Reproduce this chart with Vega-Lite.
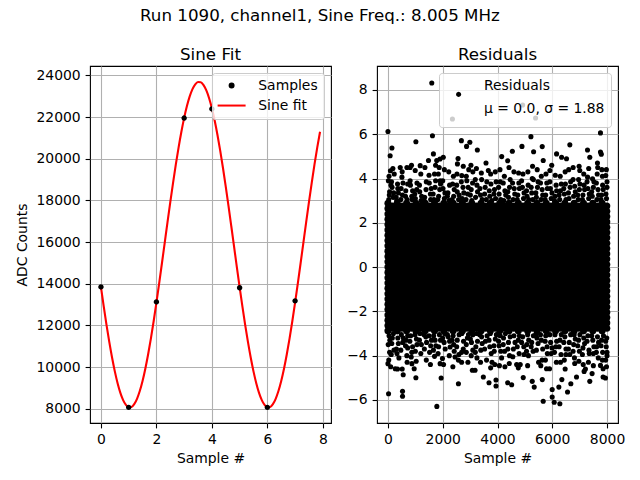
{
"$schema":"https://vega.github.io/schema/vega-lite/v6.json",
"background":"white",
"padding":{"left":14,"top":7,"right":5,"bottom":5},
"title":{"text":"Run 1090, channel1, Sine Freq.: 8.005 MHz","frame":"bounds","anchor":"middle","offset":21.5},
"config":{
"font":"DejaVu Sans",
"view":{"stroke":"black","strokeWidth":1.1},
"title":{"font":"DejaVu Sans","fontSize":16.7,"fontWeight":"normal","color":"black","baseline":"alphabetic","offset":2.8},
"axis":{"domain":false,"grid":true,"gridColor":"#b0b0b0","gridWidth":1.1,"tickColor":"black","tickSize":4.9,"tickWidth":1.1,"labelFont":"DejaVu Sans","labelFontSize":13.9,"labelColor":"black","labelPadding":4.9,"labelFlush":false,"labelOverlap":false,"titleFont":"DejaVu Sans","titleFontSize":13.9,"titleFontWeight":"normal","titleColor":"black","titlePadding":5},
"axisY":{"titlePadding":7},
"legend":{"orient":"top-right","offset":7,"padding":5.6,"fillColor":"rgba(255,255,255,0.8)","strokeColor":"#cccccc","cornerRadius":2.8,"labelFont":"DejaVu Sans","labelFontSize":13.9,"labelColor":"black","rowPadding":5,"symbolSize":16,"symbolStrokeWidth":2,"symbolOffset":7.05,"labelOffset":19.75}
},
"spacing":46,
"bounds":"flush",
"resolve":{"scale":{"fill":"independent","stroke":"independent","shape":"independent"}},
"datasets":{
"samples":[{"x":0,"y":13850,"series":"Samples"},{"x":1,"y":8070,"series":"Samples"},{"x":2,"y":13130,"series":"Samples"},{"x":3,"y":21950,"series":"Samples"},{"x":4,"y":22390,"series":"Samples"},{"x":5,"y":13810,"series":"Samples"},{"x":6,"y":8070,"series":"Samples"},{"x":7,"y":13180,"series":"Samples"}],
"curve":[{"x":0,"y":13842},{"x":0.1,"y":12912},{"x":0.2,"y":12030},{"x":0.3,"y":11209},{"x":0.4,"y":10461},{"x":0.5,"y":9798},{"x":0.6,"y":9231},{"x":0.7,"y":8769},{"x":0.8,"y":8419},{"x":0.9,"y":8187},{"x":1.0,"y":8077},{"x":1.1,"y":8089},{"x":1.2,"y":8224},{"x":1.3,"y":8480},{"x":1.4,"y":8853},{"x":1.5,"y":9336},{"x":1.6,"y":9924},{"x":1.7,"y":10604},{"x":1.8,"y":11367},{"x":1.9,"y":12201},{"x":2.0,"y":13095},{"x":2.1,"y":14031},{"x":2.2,"y":14997},{"x":2.3,"y":15977},{"x":2.4,"y":16956},{"x":2.5,"y":17916},{"x":2.6,"y":18846},{"x":2.7,"y":19728},{"x":2.8,"y":20549},{"x":2.9,"y":21297},{"x":3.0,"y":21960},{"x":3.1,"y":22527},{"x":3.2,"y":22989},{"x":3.3,"y":23339},{"x":3.4,"y":23571},{"x":3.5,"y":23681},{"x":3.6,"y":23669},{"x":3.7,"y":23534},{"x":3.8,"y":23278},{"x":3.9,"y":22905},{"x":4.0,"y":22422},{"x":4.1,"y":21834},{"x":4.2,"y":21154},{"x":4.3,"y":20391},{"x":4.4,"y":19557},{"x":4.5,"y":18663},{"x":4.6,"y":17727},{"x":4.7,"y":16761},{"x":4.8,"y":15781},{"x":4.9,"y":14802},{"x":5.0,"y":13842},{"x":5.1,"y":12912},{"x":5.2,"y":12030},{"x":5.3,"y":11209},{"x":5.4,"y":10461},{"x":5.5,"y":9798},{"x":5.6,"y":9231},{"x":5.7,"y":8769},{"x":5.8,"y":8419},{"x":5.9,"y":8187},{"x":6.0,"y":8077},{"x":6.1,"y":8089},{"x":6.2,"y":8224},{"x":6.3,"y":8480},{"x":6.4,"y":8853},{"x":6.5,"y":9336},{"x":6.6,"y":9924},{"x":6.7,"y":10604},{"x":6.8,"y":11367},{"x":6.9,"y":12201},{"x":7.0,"y":13095},{"x":7.1,"y":14031},{"x":7.2,"y":14997},{"x":7.3,"y":15977},{"x":7.4,"y":16956},{"x":7.5,"y":17916},{"x":7.6,"y":18846},{"x":7.7,"y":19728},{"x":7.8,"y":20549},{"x":7.9,"y":21297}],
"residuals":[
{"x":0,"y":-2.88},{"x":0,"y":-2.64},{"x":0,"y":-2.4},{"x":0,"y":-2.16},{"x":0,"y":-1.92},{"x":0,"y":-1.68},{"x":0,"y":-1.44},{"x":0,"y":-1.2},{"x":0,"y":-0.96},{"x":0,"y":-0.72},{"x":0,"y":-0.48},{"x":0,"y":-0.24},{"x":0,"y":0},{"x":0,"y":0.24},{"x":0,"y":0.48},{"x":0,"y":0.72},{"x":0,"y":0.96},{"x":0,"y":1.2},{"x":0,"y":1.44},{"x":0,"y":1.68},{"x":0,"y":1.92},{"x":0,"y":2.16},{"x":0,"y":2.4},{"x":0,"y":2.64},{"x":0,"y":2.88},
{"x":30,"y":3.05},{"x":60,"y":3.4},{"x":15,"y":3.9},{"x":90,"y":4.35},{"x":0,"y":6.12},{"x":80,"y":5.03},{"x":145,"y":5.38},{"x":40,"y":-3.1},{"x":10,"y":-3.5},{"x":60,"y":-3.85},{"x":0,"y":-4.36},{"x":100,"y":-4.5},{"x":22,"y":-5.72},
{"x":170,"y":-2.76},{"x":170,"y":-2.52},{"x":170,"y":-2.28},{"x":170,"y":-2.04},{"x":170,"y":-1.8},{"x":170,"y":-1.56},{"x":170,"y":-1.32},{"x":170,"y":-1.08},{"x":170,"y":-0.84},{"x":170,"y":-0.6},{"x":170,"y":-0.36},{"x":170,"y":-0.12},{"x":170,"y":0.12},{"x":170,"y":0.36},{"x":170,"y":0.6},{"x":170,"y":0.84},{"x":170,"y":1.08},{"x":170,"y":1.32},{"x":170,"y":1.56},{"x":170,"y":1.8},{"x":170,"y":2.04},{"x":170,"y":2.28},{"x":170,"y":2.52},{"x":170,"y":2.76},
{"x":190,"y":3.15},{"x":150,"y":3.6},{"x":230,"y":4.2},{"x":200,"y":-3.0},{"x":140,"y":-3.45},{"x":266,"y":-4.59},
{"x":340,"y":-2.88},{"x":340,"y":-2.64},{"x":340,"y":-2.4},{"x":340,"y":-2.16},{"x":340,"y":-1.92},{"x":340,"y":-1.68},{"x":340,"y":-1.44},{"x":340,"y":-1.2},{"x":340,"y":-0.96},{"x":340,"y":-0.72},{"x":340,"y":-0.48},{"x":340,"y":-0.24},{"x":340,"y":0},{"x":340,"y":0.24},{"x":340,"y":0.48},{"x":340,"y":0.72},{"x":340,"y":0.96},{"x":340,"y":1.2},{"x":340,"y":1.44},{"x":340,"y":1.68},{"x":340,"y":1.92},{"x":340,"y":2.16},{"x":340,"y":2.4},{"x":340,"y":2.64},{"x":340,"y":2.88},
{"x":320,"y":3.0},{"x":380,"y":3.35},{"x":350,"y":3.75},{"x":448,"y":4.5},{"x":360,"y":-3.2},{"x":310,"y":-3.7},{"x":400,"y":-4.1},
{"x":510,"y":-2.76},{"x":510,"y":-2.52},{"x":510,"y":-2.28},{"x":510,"y":-2.04},{"x":510,"y":-1.8},{"x":510,"y":-1.56},{"x":510,"y":-1.32},{"x":510,"y":-1.08},{"x":510,"y":-0.84},{"x":510,"y":-0.6},{"x":510,"y":-0.36},{"x":510,"y":-0.12},{"x":510,"y":0.12},{"x":510,"y":0.36},{"x":510,"y":0.6},{"x":510,"y":0.84},{"x":510,"y":1.08},{"x":510,"y":1.32},{"x":510,"y":1.56},{"x":510,"y":1.8},{"x":510,"y":2.04},{"x":510,"y":2.28},{"x":510,"y":2.52},{"x":510,"y":2.76},
{"x":530,"y":3.25},{"x":480,"y":3.55},{"x":510,"y":4.06},{"x":490,"y":-3.05},{"x":540,"y":-3.4},{"x":557,"y":-4.86},{"x":520,"y":-4.6},{"x":532,"y":-5.61},{"x":532,"y":-5.83},
{"x":680,"y":-2.88},{"x":680,"y":-2.64},{"x":680,"y":-2.4},{"x":680,"y":-2.16},{"x":680,"y":-1.92},{"x":680,"y":-1.68},{"x":680,"y":-1.44},{"x":680,"y":-1.2},{"x":680,"y":-0.96},{"x":680,"y":-0.72},{"x":680,"y":-0.48},{"x":680,"y":-0.24},{"x":680,"y":0},{"x":680,"y":0.24},{"x":680,"y":0.48},{"x":680,"y":0.72},{"x":680,"y":0.96},{"x":680,"y":1.2},{"x":680,"y":1.44},{"x":680,"y":1.68},{"x":680,"y":1.92},{"x":680,"y":2.16},{"x":680,"y":2.4},{"x":680,"y":2.64},{"x":680,"y":2.88},
{"x":700,"y":3.05},{"x":650,"y":3.45},{"x":692,"y":4.5},{"x":810,"y":4.5},{"x":660,"y":-3.3},{"x":720,"y":-3.65},{"x":690,"y":-4.0},
{"x":850,"y":-2.76},{"x":850,"y":-2.52},{"x":850,"y":-2.28},{"x":850,"y":-2.04},{"x":850,"y":-1.8},{"x":850,"y":-1.56},{"x":850,"y":-1.32},{"x":850,"y":-1.08},{"x":850,"y":-0.84},{"x":850,"y":-0.6},{"x":850,"y":-0.36},{"x":850,"y":-0.12},{"x":850,"y":0.12},{"x":850,"y":0.36},{"x":850,"y":0.6},{"x":850,"y":0.84},{"x":850,"y":1.08},{"x":850,"y":1.32},{"x":850,"y":1.56},{"x":850,"y":1.8},{"x":850,"y":2.04},{"x":850,"y":2.28},{"x":850,"y":2.52},{"x":850,"y":2.76},
{"x":870,"y":3.2},{"x":820,"y":3.7},{"x":880,"y":3.05},{"x":830,"y":-3.1},{"x":874,"y":-4.36},{"x":850,"y":-4.06},{"x":900,"y":-3.6},
{"x":1020,"y":-2.88},{"x":1020,"y":-2.64},{"x":1020,"y":-2.4},{"x":1020,"y":-2.16},{"x":1020,"y":-1.92},{"x":1020,"y":-1.68},{"x":1020,"y":-1.44},{"x":1020,"y":-1.2},{"x":1020,"y":-0.96},{"x":1020,"y":-0.72},{"x":1020,"y":-0.48},{"x":1020,"y":-0.24},{"x":1020,"y":0},{"x":1020,"y":0.24},{"x":1020,"y":0.48},{"x":1020,"y":0.72},{"x":1020,"y":0.96},{"x":1020,"y":1.2},{"x":1020,"y":1.44},{"x":1020,"y":1.68},{"x":1020,"y":1.92},{"x":1020,"y":2.16},{"x":1020,"y":2.4},{"x":1020,"y":2.64},{"x":1020,"y":2.88},
{"x":1000,"y":3.1},{"x":1050,"y":3.5},{"x":995,"y":4.36},{"x":1020,"y":5.66},{"x":1040,"y":-3.25},{"x":958,"y":-4.59},{"x":1020,"y":-5.0},{"x":1000,"y":-3.8},
{"x":1190,"y":-2.76},{"x":1190,"y":-2.52},{"x":1190,"y":-2.28},{"x":1190,"y":-2.04},{"x":1190,"y":-1.8},{"x":1190,"y":-1.56},{"x":1190,"y":-1.32},{"x":1190,"y":-1.08},{"x":1190,"y":-0.84},{"x":1190,"y":-0.6},{"x":1190,"y":-0.36},{"x":1190,"y":-0.12},{"x":1190,"y":0.12},{"x":1190,"y":0.36},{"x":1190,"y":0.6},{"x":1190,"y":0.84},{"x":1190,"y":1.08},{"x":1190,"y":1.32},{"x":1190,"y":1.56},{"x":1190,"y":1.8},{"x":1190,"y":2.04},{"x":1190,"y":2.28},{"x":1190,"y":2.52},{"x":1190,"y":2.76},
{"x":1210,"y":3.0},{"x":1177,"y":4.58},{"x":1160,"y":3.4},{"x":1170,"y":-3.0},{"x":1220,"y":-3.5},
{"x":1360,"y":-2.88},{"x":1360,"y":-2.64},{"x":1360,"y":-2.4},{"x":1360,"y":-2.16},{"x":1360,"y":-1.92},{"x":1360,"y":-1.68},{"x":1360,"y":-1.44},{"x":1360,"y":-1.2},{"x":1360,"y":-0.96},{"x":1360,"y":-0.72},{"x":1360,"y":-0.48},{"x":1360,"y":-0.24},{"x":1360,"y":0},{"x":1360,"y":0.24},{"x":1360,"y":0.48},{"x":1360,"y":0.72},{"x":1360,"y":0.96},{"x":1360,"y":1.2},{"x":1360,"y":1.44},{"x":1360,"y":1.68},{"x":1360,"y":1.92},{"x":1360,"y":2.16},{"x":1360,"y":2.4},{"x":1360,"y":2.64},{"x":1360,"y":2.88},
{"x":1340,"y":3.15},{"x":1390,"y":3.5},{"x":1380,"y":-3.15},{"x":1330,"y":-3.7},{"x":1400,"y":-4.2},
{"x":1530,"y":-2.76},{"x":1530,"y":-2.52},{"x":1530,"y":-2.28},{"x":1530,"y":-2.04},{"x":1530,"y":-1.8},{"x":1530,"y":-1.56},{"x":1530,"y":-1.32},{"x":1530,"y":-1.08},{"x":1530,"y":-0.84},{"x":1530,"y":-0.6},{"x":1530,"y":-0.36},{"x":1530,"y":-0.12},{"x":1530,"y":0.12},{"x":1530,"y":0.36},{"x":1530,"y":0.6},{"x":1530,"y":0.84},{"x":1530,"y":1.08},{"x":1530,"y":1.32},{"x":1530,"y":1.56},{"x":1530,"y":1.8},{"x":1530,"y":2.04},{"x":1530,"y":2.28},{"x":1530,"y":2.52},{"x":1530,"y":2.76},
{"x":1550,"y":3.3},{"x":1480,"y":4.81},{"x":1510,"y":3.8},{"x":1600,"y":8.31},{"x":1625,"y":5.93},{"x":1660,"y":5.11},{"x":1560,"y":3.05},{"x":1500,"y":-3.1},{"x":1560,"y":-3.55},
{"x":1700,"y":-2.88},{"x":1700,"y":-2.64},{"x":1700,"y":-2.4},{"x":1700,"y":-2.16},{"x":1700,"y":-1.92},{"x":1700,"y":-1.68},{"x":1700,"y":-1.44},{"x":1700,"y":-1.2},{"x":1700,"y":-0.96},{"x":1700,"y":-0.72},{"x":1700,"y":-0.48},{"x":1700,"y":-0.24},{"x":1700,"y":0},{"x":1700,"y":0.24},{"x":1700,"y":0.48},{"x":1700,"y":0.72},{"x":1700,"y":0.96},{"x":1700,"y":1.2},{"x":1700,"y":1.44},{"x":1700,"y":1.68},{"x":1700,"y":1.92},{"x":1700,"y":2.16},{"x":1700,"y":2.4},{"x":1700,"y":2.64},{"x":1700,"y":2.88},
{"x":1680,"y":3.05},{"x":1720,"y":3.6},{"x":1780,"y":4.81},{"x":1700,"y":4.2},{"x":1740,"y":4.6},{"x":1720,"y":-3.3},{"x":1700,"y":-4.03},{"x":1785,"y":-6.29},{"x":1660,"y":-3.75},
{"x":1870,"y":-2.76},{"x":1870,"y":-2.52},{"x":1870,"y":-2.28},{"x":1870,"y":-2.04},{"x":1870,"y":-1.8},{"x":1870,"y":-1.56},{"x":1870,"y":-1.32},{"x":1870,"y":-1.08},{"x":1870,"y":-0.84},{"x":1870,"y":-0.6},{"x":1870,"y":-0.36},{"x":1870,"y":-0.12},{"x":1870,"y":0.12},{"x":1870,"y":0.36},{"x":1870,"y":0.6},{"x":1870,"y":0.84},{"x":1870,"y":1.08},{"x":1870,"y":1.32},{"x":1870,"y":1.56},{"x":1870,"y":1.8},{"x":1870,"y":2.04},{"x":1870,"y":2.28},{"x":1870,"y":2.52},{"x":1870,"y":2.76},
{"x":1850,"y":3.2},{"x":1900,"y":4.88},{"x":1870,"y":4.5},{"x":1905,"y":3.9},{"x":1890,"y":3.5},{"x":1880,"y":-3.05},{"x":1905,"y":-4.36},{"x":1942,"y":-5.01},{"x":1850,"y":-3.6},{"x":1990,"y":-4.13},
{"x":2040,"y":-2.88},{"x":2040,"y":-2.64},{"x":2040,"y":-2.4},{"x":2040,"y":-2.16},{"x":2040,"y":-1.92},{"x":2040,"y":-1.68},{"x":2040,"y":-1.44},{"x":2040,"y":-1.2},{"x":2040,"y":-0.96},{"x":2040,"y":-0.72},{"x":2040,"y":-0.48},{"x":2040,"y":-0.24},{"x":2040,"y":0},{"x":2040,"y":0.24},{"x":2040,"y":0.48},{"x":2040,"y":0.72},{"x":2040,"y":0.96},{"x":2040,"y":1.2},{"x":2040,"y":1.44},{"x":2040,"y":1.68},{"x":2040,"y":1.92},{"x":2040,"y":2.16},{"x":2040,"y":2.4},{"x":2040,"y":2.64},{"x":2040,"y":2.88},
{"x":2020,"y":4.96},{"x":2060,"y":3.1},{"x":2010,"y":3.55},{"x":2050,"y":-3.4},{"x":2070,"y":-3.0},
{"x":2210,"y":-2.76},{"x":2210,"y":-2.52},{"x":2210,"y":-2.28},{"x":2210,"y":-2.04},{"x":2210,"y":-1.8},{"x":2210,"y":-1.56},{"x":2210,"y":-1.32},{"x":2210,"y":-1.08},{"x":2210,"y":-0.84},{"x":2210,"y":-0.6},{"x":2210,"y":-0.36},{"x":2210,"y":-0.12},{"x":2210,"y":0.12},{"x":2210,"y":0.36},{"x":2210,"y":0.6},{"x":2210,"y":0.84},{"x":2210,"y":1.08},{"x":2210,"y":1.32},{"x":2210,"y":1.56},{"x":2210,"y":1.8},{"x":2210,"y":2.04},{"x":2210,"y":2.28},{"x":2210,"y":2.52},{"x":2210,"y":2.76},
{"x":2230,"y":3.0},{"x":2190,"y":3.35},{"x":2270,"y":-3.61},{"x":2200,"y":-3.15},{"x":2240,"y":-4.0},
{"x":2380,"y":-2.88},{"x":2380,"y":-2.64},{"x":2380,"y":-2.4},{"x":2380,"y":-2.16},{"x":2380,"y":-1.92},{"x":2380,"y":-1.68},{"x":2380,"y":-1.44},{"x":2380,"y":-1.2},{"x":2380,"y":-0.96},{"x":2380,"y":-0.72},{"x":2380,"y":-0.48},{"x":2380,"y":-0.24},{"x":2380,"y":0},{"x":2380,"y":0.24},{"x":2380,"y":0.48},{"x":2380,"y":0.72},{"x":2380,"y":0.96},{"x":2380,"y":1.2},{"x":2380,"y":1.44},{"x":2380,"y":1.68},{"x":2380,"y":1.92},{"x":2380,"y":2.16},{"x":2380,"y":2.4},{"x":2380,"y":2.64},{"x":2380,"y":2.88},
{"x":2354,"y":6.69},{"x":2400,"y":3.2},{"x":2360,"y":3.75},{"x":2380,"y":-3.1},{"x":2450,"y":-4.06},{"x":2400,"y":-3.5},
{"x":2550,"y":-2.76},{"x":2550,"y":-2.52},{"x":2550,"y":-2.28},{"x":2550,"y":-2.04},{"x":2550,"y":-1.8},{"x":2550,"y":-1.56},{"x":2550,"y":-1.32},{"x":2550,"y":-1.08},{"x":2550,"y":-0.84},{"x":2550,"y":-0.6},{"x":2550,"y":-0.36},{"x":2550,"y":-0.12},{"x":2550,"y":0.12},{"x":2550,"y":0.36},{"x":2550,"y":0.6},{"x":2550,"y":0.84},{"x":2550,"y":1.08},{"x":2550,"y":1.32},{"x":2550,"y":1.56},{"x":2550,"y":1.8},{"x":2550,"y":2.04},{"x":2550,"y":2.28},{"x":2550,"y":2.52},{"x":2550,"y":2.76},
{"x":2537,"y":4.66},{"x":2560,"y":4.9},{"x":2530,"y":3.4},{"x":2580,"y":3.05},{"x":2520,"y":4.2},{"x":2570,"y":-4.2},{"x":2573,"y":-5.27},{"x":2530,"y":-3.3},
{"x":2720,"y":-2.88},{"x":2720,"y":-2.64},{"x":2720,"y":-2.4},{"x":2720,"y":-2.16},{"x":2720,"y":-1.92},{"x":2720,"y":-1.68},{"x":2720,"y":-1.44},{"x":2720,"y":-1.2},{"x":2720,"y":-0.96},{"x":2720,"y":-0.72},{"x":2720,"y":-0.48},{"x":2720,"y":-0.24},{"x":2720,"y":0},{"x":2720,"y":0.24},{"x":2720,"y":0.48},{"x":2720,"y":0.72},{"x":2720,"y":0.96},{"x":2720,"y":1.2},{"x":2720,"y":1.44},{"x":2720,"y":1.68},{"x":2720,"y":1.92},{"x":2720,"y":2.16},{"x":2720,"y":2.4},{"x":2720,"y":2.64},{"x":2720,"y":2.88},
{"x":2681,"y":5.71},{"x":2695,"y":4.13},{"x":2740,"y":3.6},{"x":2710,"y":3.1},{"x":2700,"y":-3.0},{"x":2750,"y":-3.7},{"x":2690,"y":-4.3},
{"x":2890,"y":-2.76},{"x":2890,"y":-2.52},{"x":2890,"y":-2.28},{"x":2890,"y":-2.04},{"x":2890,"y":-1.8},{"x":2890,"y":-1.56},{"x":2890,"y":-1.32},{"x":2890,"y":-1.08},{"x":2890,"y":-0.84},{"x":2890,"y":-0.6},{"x":2890,"y":-0.36},{"x":2890,"y":-0.12},{"x":2890,"y":0.12},{"x":2890,"y":0.36},{"x":2890,"y":0.6},{"x":2890,"y":0.84},{"x":2890,"y":1.08},{"x":2890,"y":1.32},{"x":2890,"y":1.56},{"x":2890,"y":1.8},{"x":2890,"y":2.04},{"x":2890,"y":2.28},{"x":2890,"y":2.52},{"x":2890,"y":2.76},
{"x":2870,"y":5.45},{"x":2990,"y":5.64},{"x":2910,"y":3.3},{"x":2880,"y":3.9},{"x":2950,"y":4.4},{"x":2900,"y":-3.2},{"x":2860,"y":-3.85},
{"x":3060,"y":-2.88},{"x":3060,"y":-2.64},{"x":3060,"y":-2.4},{"x":3060,"y":-2.16},{"x":3060,"y":-1.92},{"x":3060,"y":-1.68},{"x":3060,"y":-1.44},{"x":3060,"y":-1.2},{"x":3060,"y":-0.96},{"x":3060,"y":-0.72},{"x":3060,"y":-0.48},{"x":3060,"y":-0.24},{"x":3060,"y":0},{"x":3060,"y":0.24},{"x":3060,"y":0.48},{"x":3060,"y":0.72},{"x":3060,"y":0.96},{"x":3060,"y":1.2},{"x":3060,"y":1.44},{"x":3060,"y":1.68},{"x":3060,"y":1.92},{"x":3060,"y":2.16},{"x":3060,"y":2.4},{"x":3060,"y":2.64},{"x":3060,"y":2.88},
{"x":3060,"y":3.0},{"x":3100,"y":4.3},{"x":3040,"y":3.5},{"x":3082,"y":-4.66},{"x":3050,"y":-3.4},{"x":3100,"y":-3.05},
{"x":3230,"y":-2.76},{"x":3230,"y":-2.52},{"x":3230,"y":-2.28},{"x":3230,"y":-2.04},{"x":3230,"y":-1.8},{"x":3230,"y":-1.56},{"x":3230,"y":-1.32},{"x":3230,"y":-1.08},{"x":3230,"y":-0.84},{"x":3230,"y":-0.6},{"x":3230,"y":-0.36},{"x":3230,"y":-0.12},{"x":3230,"y":0.12},{"x":3230,"y":0.36},{"x":3230,"y":0.6},{"x":3230,"y":0.84},{"x":3230,"y":1.08},{"x":3230,"y":1.32},{"x":3230,"y":1.56},{"x":3230,"y":1.8},{"x":3230,"y":2.04},{"x":3230,"y":2.28},{"x":3230,"y":2.52},{"x":3230,"y":2.76},
{"x":3264,"y":5.29},{"x":3230,"y":4.45},{"x":3200,"y":3.15},{"x":3250,"y":3.7},{"x":3180,"y":-4.66},{"x":3210,"y":-3.6},{"x":3250,"y":-4.1},{"x":3240,"y":-3.0},
{"x":3400,"y":-2.88},{"x":3400,"y":-2.64},{"x":3400,"y":-2.4},{"x":3400,"y":-2.16},{"x":3400,"y":-1.92},{"x":3400,"y":-1.68},{"x":3400,"y":-1.44},{"x":3400,"y":-1.2},{"x":3400,"y":-0.96},{"x":3400,"y":-0.72},{"x":3400,"y":-0.48},{"x":3400,"y":-0.24},{"x":3400,"y":0},{"x":3400,"y":0.24},{"x":3400,"y":0.48},{"x":3400,"y":0.72},{"x":3400,"y":0.96},{"x":3400,"y":1.2},{"x":3400,"y":1.44},{"x":3400,"y":1.68},{"x":3400,"y":1.92},{"x":3400,"y":2.16},{"x":3400,"y":2.4},{"x":3400,"y":2.64},{"x":3400,"y":2.88},
{"x":3380,"y":3.25},{"x":3420,"y":3.95},{"x":3420,"y":-3.15},{"x":3483,"y":-4.96},{"x":3390,"y":-3.75},
{"x":3570,"y":-2.76},{"x":3570,"y":-2.52},{"x":3570,"y":-2.28},{"x":3570,"y":-2.04},{"x":3570,"y":-1.8},{"x":3570,"y":-1.56},{"x":3570,"y":-1.32},{"x":3570,"y":-1.08},{"x":3570,"y":-0.84},{"x":3570,"y":-0.6},{"x":3570,"y":-0.36},{"x":3570,"y":-0.12},{"x":3570,"y":0.12},{"x":3570,"y":0.36},{"x":3570,"y":0.6},{"x":3570,"y":0.84},{"x":3570,"y":1.08},{"x":3570,"y":1.32},{"x":3570,"y":1.56},{"x":3570,"y":1.8},{"x":3570,"y":2.04},{"x":3570,"y":2.28},{"x":3570,"y":2.52},{"x":3570,"y":2.76},
{"x":3590,"y":3.05},{"x":3550,"y":3.6},{"x":3665,"y":4.36},{"x":3560,"y":-3.35},{"x":3600,"y":-4.2},{"x":3690,"y":-5.22},
{"x":3740,"y":-2.88},{"x":3740,"y":-2.64},{"x":3740,"y":-2.4},{"x":3740,"y":-2.16},{"x":3740,"y":-1.92},{"x":3740,"y":-1.68},{"x":3740,"y":-1.44},{"x":3740,"y":-1.2},{"x":3740,"y":-0.96},{"x":3740,"y":-0.72},{"x":3740,"y":-0.48},{"x":3740,"y":-0.24},{"x":3740,"y":0},{"x":3740,"y":0.24},{"x":3740,"y":0.48},{"x":3740,"y":0.72},{"x":3740,"y":0.96},{"x":3740,"y":1.2},{"x":3740,"y":1.44},{"x":3740,"y":1.68},{"x":3740,"y":1.92},{"x":3740,"y":2.16},{"x":3740,"y":2.4},{"x":3740,"y":2.64},{"x":3740,"y":2.88},
{"x":3720,"y":3.2},{"x":3760,"y":3.75},{"x":3750,"y":4.2},{"x":3740,"y":-3.0},{"x":3800,"y":-4.3},{"x":3720,"y":-3.6},
{"x":3910,"y":-2.76},{"x":3910,"y":-2.52},{"x":3910,"y":-2.28},{"x":3910,"y":-2.04},{"x":3910,"y":-1.8},{"x":3910,"y":-1.56},{"x":3910,"y":-1.32},{"x":3910,"y":-1.08},{"x":3910,"y":-0.84},{"x":3910,"y":-0.6},{"x":3910,"y":-0.36},{"x":3910,"y":-0.12},{"x":3910,"y":0.12},{"x":3910,"y":0.36},{"x":3910,"y":0.6},{"x":3910,"y":0.84},{"x":3910,"y":1.08},{"x":3910,"y":1.32},{"x":3910,"y":1.56},{"x":3910,"y":1.8},{"x":3910,"y":2.04},{"x":3910,"y":2.28},{"x":3910,"y":2.52},{"x":3910,"y":2.76},
{"x":3930,"y":3.1},{"x":3890,"y":3.5},{"x":3900,"y":-4.4},{"x":3945,"y":-5.37},{"x":3945,"y":-5.1},{"x":3920,"y":-3.25},{"x":3880,"y":-3.8},
{"x":4080,"y":-2.88},{"x":4080,"y":-2.64},{"x":4080,"y":-2.4},{"x":4080,"y":-2.16},{"x":4080,"y":-1.92},{"x":4080,"y":-1.68},{"x":4080,"y":-1.44},{"x":4080,"y":-1.2},{"x":4080,"y":-0.96},{"x":4080,"y":-0.72},{"x":4080,"y":-0.48},{"x":4080,"y":-0.24},{"x":4080,"y":0},{"x":4080,"y":0.24},{"x":4080,"y":0.48},{"x":4080,"y":0.72},{"x":4080,"y":0.96},{"x":4080,"y":1.2},{"x":4080,"y":1.44},{"x":4080,"y":1.68},{"x":4080,"y":1.92},{"x":4080,"y":2.16},{"x":4080,"y":2.4},{"x":4080,"y":2.64},{"x":4080,"y":2.88},
{"x":4060,"y":3.3},{"x":4100,"y":3.85},{"x":4153,"y":4.99},{"x":4100,"y":-3.1},{"x":4150,"y":-4.1},{"x":4060,"y":-3.55},
{"x":4250,"y":-2.76},{"x":4250,"y":-2.52},{"x":4250,"y":-2.28},{"x":4250,"y":-2.04},{"x":4250,"y":-1.8},{"x":4250,"y":-1.56},{"x":4250,"y":-1.32},{"x":4250,"y":-1.08},{"x":4250,"y":-0.84},{"x":4250,"y":-0.6},{"x":4250,"y":-0.36},{"x":4250,"y":-0.12},{"x":4250,"y":0.12},{"x":4250,"y":0.36},{"x":4250,"y":0.6},{"x":4250,"y":0.84},{"x":4250,"y":1.08},{"x":4250,"y":1.32},{"x":4250,"y":1.56},{"x":4250,"y":1.8},{"x":4250,"y":2.04},{"x":4250,"y":2.28},{"x":4250,"y":2.52},{"x":4250,"y":2.76},
{"x":4230,"y":3.0},{"x":4270,"y":3.45},{"x":4250,"y":4.1},{"x":4270,"y":-4.5},{"x":4220,"y":-3.2},{"x":4260,"y":-3.8},
{"x":4420,"y":-2.88},{"x":4420,"y":-2.64},{"x":4420,"y":-2.4},{"x":4420,"y":-2.16},{"x":4420,"y":-1.92},{"x":4420,"y":-1.68},{"x":4420,"y":-1.44},{"x":4420,"y":-1.2},{"x":4420,"y":-0.96},{"x":4420,"y":-0.72},{"x":4420,"y":-0.48},{"x":4420,"y":-0.24},{"x":4420,"y":0},{"x":4420,"y":0.24},{"x":4420,"y":0.48},{"x":4420,"y":0.72},{"x":4420,"y":0.96},{"x":4420,"y":1.2},{"x":4420,"y":1.44},{"x":4420,"y":1.68},{"x":4420,"y":1.92},{"x":4420,"y":2.16},{"x":4420,"y":2.4},{"x":4420,"y":2.64},{"x":4420,"y":2.88},
{"x":4373,"y":4.8},{"x":4400,"y":3.15},{"x":4440,"y":3.6},{"x":4372,"y":-5.22},{"x":4400,"y":-3.4},{"x":4440,"y":-4.0},
{"x":4590,"y":-2.76},{"x":4590,"y":-2.52},{"x":4590,"y":-2.28},{"x":4590,"y":-2.04},{"x":4590,"y":-1.8},{"x":4590,"y":-1.56},{"x":4590,"y":-1.32},{"x":4590,"y":-1.08},{"x":4590,"y":-0.84},{"x":4590,"y":-0.6},{"x":4590,"y":-0.36},{"x":4590,"y":-0.12},{"x":4590,"y":0.12},{"x":4590,"y":0.36},{"x":4590,"y":0.6},{"x":4590,"y":0.84},{"x":4590,"y":1.08},{"x":4590,"y":1.32},{"x":4590,"y":1.56},{"x":4590,"y":1.8},{"x":4590,"y":2.04},{"x":4590,"y":2.28},{"x":4590,"y":2.52},{"x":4590,"y":2.76},
{"x":4542,"y":5.23},{"x":4570,"y":3.05},{"x":4610,"y":3.55},{"x":4600,"y":4.3},{"x":4517,"y":-5.31},{"x":4600,"y":-3.1},{"x":4580,"y":-3.7},
{"x":4760,"y":-2.88},{"x":4760,"y":-2.64},{"x":4760,"y":-2.4},{"x":4760,"y":-2.16},{"x":4760,"y":-1.92},{"x":4760,"y":-1.68},{"x":4760,"y":-1.44},{"x":4760,"y":-1.2},{"x":4760,"y":-0.96},{"x":4760,"y":-0.72},{"x":4760,"y":-0.48},{"x":4760,"y":-0.24},{"x":4760,"y":0},{"x":4760,"y":0.24},{"x":4760,"y":0.48},{"x":4760,"y":0.72},{"x":4760,"y":0.96},{"x":4760,"y":1.2},{"x":4760,"y":1.44},{"x":4760,"y":1.68},{"x":4760,"y":1.92},{"x":4760,"y":2.16},{"x":4760,"y":2.4},{"x":4760,"y":2.64},{"x":4760,"y":2.88},
{"x":4740,"y":3.25},{"x":4780,"y":3.8},{"x":4700,"y":-4.4},{"x":4760,"y":-3.3},{"x":4790,"y":-3.9},
{"x":4930,"y":-2.76},{"x":4930,"y":-2.52},{"x":4930,"y":-2.28},{"x":4930,"y":-2.04},{"x":4930,"y":-1.8},{"x":4930,"y":-1.56},{"x":4930,"y":-1.32},{"x":4930,"y":-1.08},{"x":4930,"y":-0.84},{"x":4930,"y":-0.6},{"x":4930,"y":-0.36},{"x":4930,"y":-0.12},{"x":4930,"y":0.12},{"x":4930,"y":0.36},{"x":4930,"y":0.6},{"x":4930,"y":0.84},{"x":4930,"y":1.08},{"x":4930,"y":1.32},{"x":4930,"y":1.56},{"x":4930,"y":1.8},{"x":4930,"y":2.04},{"x":4930,"y":2.28},{"x":4930,"y":2.52},{"x":4930,"y":2.76},
{"x":4893,"y":5.45},{"x":4918,"y":7.32},{"x":4950,"y":3.1},{"x":4910,"y":3.6},{"x":4930,"y":4.2},{"x":4830,"y":-4.4},{"x":4940,"y":-4.99},{"x":4920,"y":-3.15},{"x":4960,"y":-3.6},
{"x":5100,"y":-2.88},{"x":5100,"y":-2.64},{"x":5100,"y":-2.4},{"x":5100,"y":-2.16},{"x":5100,"y":-1.92},{"x":5100,"y":-1.68},{"x":5100,"y":-1.44},{"x":5100,"y":-1.2},{"x":5100,"y":-0.96},{"x":5100,"y":-0.72},{"x":5100,"y":-0.48},{"x":5100,"y":-0.24},{"x":5100,"y":0},{"x":5100,"y":0.24},{"x":5100,"y":0.48},{"x":5100,"y":0.72},{"x":5100,"y":0.96},{"x":5100,"y":1.2},{"x":5100,"y":1.44},{"x":5100,"y":1.68},{"x":5100,"y":1.92},{"x":5100,"y":2.16},{"x":5100,"y":2.4},{"x":5100,"y":2.64},{"x":5100,"y":2.88},
{"x":5080,"y":3.2},{"x":5120,"y":3.7},{"x":5100,"y":-3.05},{"x":5070,"y":-3.5},{"x":5130,"y":-4.0},
{"x":5270,"y":-2.76},{"x":5270,"y":-2.52},{"x":5270,"y":-2.28},{"x":5270,"y":-2.04},{"x":5270,"y":-1.8},{"x":5270,"y":-1.56},{"x":5270,"y":-1.32},{"x":5270,"y":-1.08},{"x":5270,"y":-0.84},{"x":5270,"y":-0.6},{"x":5270,"y":-0.36},{"x":5270,"y":-0.12},{"x":5270,"y":0.12},{"x":5270,"y":0.36},{"x":5270,"y":0.6},{"x":5270,"y":0.84},{"x":5270,"y":1.08},{"x":5270,"y":1.32},{"x":5270,"y":1.56},{"x":5270,"y":1.8},{"x":5270,"y":2.04},{"x":5270,"y":2.28},{"x":5270,"y":2.52},{"x":5270,"y":2.76},
{"x":5220,"y":5.89},{"x":5318,"y":5.21},{"x":5250,"y":3.35},{"x":5290,"y":3.05},{"x":5270,"y":4.0},{"x":5268,"y":-5.16},{"x":5250,"y":-3.4},{"x":5300,"y":-3.8},
{"x":5440,"y":-2.88},{"x":5440,"y":-2.64},{"x":5440,"y":-2.4},{"x":5440,"y":-2.16},{"x":5440,"y":-1.92},{"x":5440,"y":-1.68},{"x":5440,"y":-1.44},{"x":5440,"y":-1.2},{"x":5440,"y":-0.96},{"x":5440,"y":-0.72},{"x":5440,"y":-0.48},{"x":5440,"y":-0.24},{"x":5440,"y":0},{"x":5440,"y":0.24},{"x":5440,"y":0.48},{"x":5440,"y":0.72},{"x":5440,"y":0.96},{"x":5440,"y":1.2},{"x":5440,"y":1.44},{"x":5440,"y":1.68},{"x":5440,"y":1.92},{"x":5440,"y":2.16},{"x":5440,"y":2.4},{"x":5440,"y":2.64},{"x":5440,"y":2.88},
{"x":5390,"y":6.73},{"x":5420,"y":3.15},{"x":5460,"y":3.6},{"x":5341,"y":-5.42},{"x":5440,"y":-3.2},{"x":5500,"y":-4.3},{"x":5420,"y":-3.75},
{"x":5610,"y":-2.76},{"x":5610,"y":-2.52},{"x":5610,"y":-2.28},{"x":5610,"y":-2.04},{"x":5610,"y":-1.8},{"x":5610,"y":-1.56},{"x":5610,"y":-1.32},{"x":5610,"y":-1.08},{"x":5610,"y":-0.84},{"x":5610,"y":-0.6},{"x":5610,"y":-0.36},{"x":5610,"y":-0.12},{"x":5610,"y":0.12},{"x":5610,"y":0.36},{"x":5610,"y":0.6},{"x":5610,"y":0.84},{"x":5610,"y":1.08},{"x":5610,"y":1.32},{"x":5610,"y":1.56},{"x":5610,"y":1.8},{"x":5610,"y":2.04},{"x":5610,"y":2.28},{"x":5610,"y":2.52},{"x":5610,"y":2.76},
{"x":5633,"y":5.44},{"x":5670,"y":4.81},{"x":5590,"y":3.05},{"x":5630,"y":3.5},{"x":5600,"y":4.1},{"x":5669,"y":-6.06},{"x":5636,"y":-5.08},{"x":5630,"y":-4.2},{"x":5600,"y":-3.3},
{"x":5780,"y":-2.88},{"x":5780,"y":-2.64},{"x":5780,"y":-2.4},{"x":5780,"y":-2.16},{"x":5780,"y":-1.92},{"x":5780,"y":-1.68},{"x":5780,"y":-1.44},{"x":5780,"y":-1.2},{"x":5780,"y":-0.96},{"x":5780,"y":-0.72},{"x":5780,"y":-0.48},{"x":5780,"y":-0.24},{"x":5780,"y":0},{"x":5780,"y":0.24},{"x":5780,"y":0.48},{"x":5780,"y":0.72},{"x":5780,"y":0.96},{"x":5780,"y":1.2},{"x":5780,"y":1.44},{"x":5780,"y":1.68},{"x":5780,"y":1.92},{"x":5780,"y":2.16},{"x":5780,"y":2.4},{"x":5780,"y":2.64},{"x":5780,"y":2.88},
{"x":5760,"y":3.25},{"x":5800,"y":3.8},{"x":5790,"y":-4.59},{"x":5760,"y":-3.1},{"x":5810,"y":-3.6},
{"x":5950,"y":-2.76},{"x":5950,"y":-2.52},{"x":5950,"y":-2.28},{"x":5950,"y":-2.04},{"x":5950,"y":-1.8},{"x":5950,"y":-1.56},{"x":5950,"y":-1.32},{"x":5950,"y":-1.08},{"x":5950,"y":-0.84},{"x":5950,"y":-0.6},{"x":5950,"y":-0.36},{"x":5950,"y":-0.12},{"x":5950,"y":0.12},{"x":5950,"y":0.36},{"x":5950,"y":0.6},{"x":5950,"y":0.84},{"x":5950,"y":1.08},{"x":5950,"y":1.32},{"x":5950,"y":1.56},{"x":5950,"y":1.8},{"x":5950,"y":2.04},{"x":5950,"y":2.28},{"x":5950,"y":2.52},{"x":5950,"y":2.76},
{"x":5913,"y":4.36},{"x":5960,"y":3.1},{"x":5930,"y":3.55},{"x":5997,"y":-5.53},{"x":5997,"y":-5.87},{"x":5900,"y":-4.59},{"x":5940,"y":-3.4},{"x":5960,"y":-3.9},
{"x":6120,"y":-2.88},{"x":6120,"y":-2.64},{"x":6120,"y":-2.4},{"x":6120,"y":-2.16},{"x":6120,"y":-1.92},{"x":6120,"y":-1.68},{"x":6120,"y":-1.44},{"x":6120,"y":-1.2},{"x":6120,"y":-0.96},{"x":6120,"y":-0.72},{"x":6120,"y":-0.48},{"x":6120,"y":-0.24},{"x":6120,"y":0},{"x":6120,"y":0.24},{"x":6120,"y":0.48},{"x":6120,"y":0.72},{"x":6120,"y":0.96},{"x":6120,"y":1.2},{"x":6120,"y":1.44},{"x":6120,"y":1.68},{"x":6120,"y":1.92},{"x":6120,"y":2.16},{"x":6120,"y":2.4},{"x":6120,"y":2.64},{"x":6120,"y":2.88},
{"x":6157,"y":5.11},{"x":6100,"y":3.2},{"x":6140,"y":3.7},{"x":6070,"y":-6.1},{"x":6150,"y":-4.3},{"x":6100,"y":-3.05},{"x":6130,"y":-3.6},
{"x":6290,"y":-2.76},{"x":6290,"y":-2.52},{"x":6290,"y":-2.28},{"x":6290,"y":-2.04},{"x":6290,"y":-1.8},{"x":6290,"y":-1.56},{"x":6290,"y":-1.32},{"x":6290,"y":-1.08},{"x":6290,"y":-0.84},{"x":6290,"y":-0.6},{"x":6290,"y":-0.36},{"x":6290,"y":-0.12},{"x":6290,"y":0.12},{"x":6290,"y":0.36},{"x":6290,"y":0.6},{"x":6290,"y":0.84},{"x":6290,"y":1.08},{"x":6290,"y":1.32},{"x":6290,"y":1.56},{"x":6290,"y":1.8},{"x":6290,"y":2.04},{"x":6290,"y":2.28},{"x":6290,"y":2.52},{"x":6290,"y":2.76},
{"x":6340,"y":4.96},{"x":6270,"y":3.05},{"x":6300,"y":3.45},{"x":6290,"y":4.1},{"x":6277,"y":-6.17},{"x":6240,"y":-5.42},{"x":6350,"y":-5.08},{"x":6300,"y":-4.3},{"x":6280,"y":-3.3},
{"x":6460,"y":-2.88},{"x":6460,"y":-2.64},{"x":6460,"y":-2.4},{"x":6460,"y":-2.16},{"x":6460,"y":-1.92},{"x":6460,"y":-1.68},{"x":6460,"y":-1.44},{"x":6460,"y":-1.2},{"x":6460,"y":-0.96},{"x":6460,"y":-0.72},{"x":6460,"y":-0.48},{"x":6460,"y":-0.24},{"x":6460,"y":0},{"x":6460,"y":0.24},{"x":6460,"y":0.48},{"x":6460,"y":0.72},{"x":6460,"y":0.96},{"x":6460,"y":1.2},{"x":6460,"y":1.44},{"x":6460,"y":1.68},{"x":6460,"y":1.92},{"x":6460,"y":2.16},{"x":6460,"y":2.4},{"x":6460,"y":2.64},{"x":6460,"y":2.88},
{"x":6520,"y":4.89},{"x":6440,"y":3.3},{"x":6480,"y":3.75},{"x":6460,"y":-3.15},{"x":6500,"y":-3.7},{"x":6440,"y":-4.2},
{"x":6630,"y":-2.76},{"x":6630,"y":-2.52},{"x":6630,"y":-2.28},{"x":6630,"y":-2.04},{"x":6630,"y":-1.8},{"x":6630,"y":-1.56},{"x":6630,"y":-1.32},{"x":6630,"y":-1.08},{"x":6630,"y":-0.84},{"x":6630,"y":-0.6},{"x":6630,"y":-0.36},{"x":6630,"y":-0.12},{"x":6630,"y":0.12},{"x":6630,"y":0.36},{"x":6630,"y":0.6},{"x":6630,"y":0.84},{"x":6630,"y":1.08},{"x":6630,"y":1.32},{"x":6630,"y":1.56},{"x":6630,"y":1.8},{"x":6630,"y":2.04},{"x":6630,"y":2.28},{"x":6630,"y":2.52},{"x":6630,"y":2.76},
{"x":6641,"y":5.52},{"x":6610,"y":3.1},{"x":6650,"y":3.6},{"x":6557,"y":-5.64},{"x":6678,"y":-5.27},{"x":6620,"y":-3.4},{"x":6640,"y":-3.95},
{"x":6800,"y":-2.88},{"x":6800,"y":-2.64},{"x":6800,"y":-2.4},{"x":6800,"y":-2.16},{"x":6800,"y":-1.92},{"x":6800,"y":-1.68},{"x":6800,"y":-1.44},{"x":6800,"y":-1.2},{"x":6800,"y":-0.96},{"x":6800,"y":-0.72},{"x":6800,"y":-0.48},{"x":6800,"y":-0.24},{"x":6800,"y":0},{"x":6800,"y":0.24},{"x":6800,"y":0.48},{"x":6800,"y":0.72},{"x":6800,"y":0.96},{"x":6800,"y":1.2},{"x":6800,"y":1.44},{"x":6800,"y":1.68},{"x":6800,"y":1.92},{"x":6800,"y":2.16},{"x":6800,"y":2.4},{"x":6800,"y":2.64},{"x":6800,"y":2.88},
{"x":6762,"y":4.5},{"x":6780,"y":3.2},{"x":6820,"y":3.65},{"x":6800,"y":-3.05},{"x":6780,"y":-3.5},{"x":6820,"y":-4.35},
{"x":6970,"y":-2.76},{"x":6970,"y":-2.52},{"x":6970,"y":-2.28},{"x":6970,"y":-2.04},{"x":6970,"y":-1.8},{"x":6970,"y":-1.56},{"x":6970,"y":-1.32},{"x":6970,"y":-1.08},{"x":6970,"y":-0.84},{"x":6970,"y":-0.6},{"x":6970,"y":-0.36},{"x":6970,"y":-0.12},{"x":6970,"y":0.12},{"x":6970,"y":0.36},{"x":6970,"y":0.6},{"x":6970,"y":0.84},{"x":6970,"y":1.08},{"x":6970,"y":1.32},{"x":6970,"y":1.56},{"x":6970,"y":1.8},{"x":6970,"y":2.04},{"x":6970,"y":2.28},{"x":6970,"y":2.52},{"x":6970,"y":2.76},
{"x":7005,"y":4.36},{"x":6950,"y":3.05},{"x":6990,"y":3.5},{"x":6960,"y":3.95},{"x":6885,"y":-4.96},{"x":6960,"y":-3.3},{"x":6990,"y":-3.8},
{"x":7140,"y":-2.88},{"x":7140,"y":-2.64},{"x":7140,"y":-2.4},{"x":7140,"y":-2.16},{"x":7140,"y":-1.92},{"x":7140,"y":-1.68},{"x":7140,"y":-1.44},{"x":7140,"y":-1.2},{"x":7140,"y":-0.96},{"x":7140,"y":-0.72},{"x":7140,"y":-0.48},{"x":7140,"y":-0.24},{"x":7140,"y":0},{"x":7140,"y":0.24},{"x":7140,"y":0.48},{"x":7140,"y":0.72},{"x":7140,"y":0.96},{"x":7140,"y":1.2},{"x":7140,"y":1.44},{"x":7140,"y":1.68},{"x":7140,"y":1.92},{"x":7140,"y":2.16},{"x":7140,"y":2.4},{"x":7140,"y":2.64},{"x":7140,"y":2.88},
{"x":7120,"y":3.25},{"x":7160,"y":3.7},{"x":7163,"y":-4.71},{"x":7130,"y":-4.4},{"x":7210,"y":-4.6},{"x":7150,"y":-3.2},{"x":7120,"y":-3.65},
{"x":7310,"y":-2.76},{"x":7310,"y":-2.52},{"x":7310,"y":-2.28},{"x":7310,"y":-2.04},{"x":7310,"y":-1.8},{"x":7310,"y":-1.56},{"x":7310,"y":-1.32},{"x":7310,"y":-1.08},{"x":7310,"y":-0.84},{"x":7310,"y":-0.6},{"x":7310,"y":-0.36},{"x":7310,"y":-0.12},{"x":7310,"y":0.12},{"x":7310,"y":0.36},{"x":7310,"y":0.6},{"x":7310,"y":0.84},{"x":7310,"y":1.08},{"x":7310,"y":1.32},{"x":7310,"y":1.56},{"x":7310,"y":1.8},{"x":7310,"y":2.04},{"x":7310,"y":2.28},{"x":7310,"y":2.52},{"x":7310,"y":2.76},
{"x":7286,"y":5.29},{"x":7290,"y":4.06},{"x":7330,"y":3.1},{"x":7300,"y":3.55},{"x":7300,"y":-3.1},{"x":7340,"y":-3.75},
{"x":7480,"y":-2.88},{"x":7480,"y":-2.64},{"x":7480,"y":-2.4},{"x":7480,"y":-2.16},{"x":7480,"y":-1.92},{"x":7480,"y":-1.68},{"x":7480,"y":-1.44},{"x":7480,"y":-1.2},{"x":7480,"y":-0.96},{"x":7480,"y":-0.72},{"x":7480,"y":-0.48},{"x":7480,"y":-0.24},{"x":7480,"y":0},{"x":7480,"y":0.24},{"x":7480,"y":0.48},{"x":7480,"y":0.72},{"x":7480,"y":0.96},{"x":7480,"y":1.2},{"x":7480,"y":1.44},{"x":7480,"y":1.68},{"x":7480,"y":1.92},{"x":7480,"y":2.16},{"x":7480,"y":2.4},{"x":7480,"y":2.64},{"x":7480,"y":2.88},
{"x":7370,"y":4.96},{"x":7470,"y":3.99},{"x":7460,"y":3.2},{"x":7500,"y":3.6},{"x":7370,"y":-5.16},{"x":7454,"y":-4.81},{"x":7480,"y":-3.3},{"x":7500,"y":-3.9},
{"x":7650,"y":-2.76},{"x":7650,"y":-2.52},{"x":7650,"y":-2.28},{"x":7650,"y":-2.04},{"x":7650,"y":-1.8},{"x":7650,"y":-1.56},{"x":7650,"y":-1.32},{"x":7650,"y":-1.08},{"x":7650,"y":-0.84},{"x":7650,"y":-0.6},{"x":7650,"y":-0.36},{"x":7650,"y":-0.12},{"x":7650,"y":0.12},{"x":7650,"y":0.36},{"x":7650,"y":0.6},{"x":7650,"y":0.84},{"x":7650,"y":1.08},{"x":7650,"y":1.32},{"x":7650,"y":1.56},{"x":7650,"y":1.8},{"x":7650,"y":2.04},{"x":7650,"y":2.28},{"x":7650,"y":2.52},{"x":7650,"y":2.76},
{"x":7650,"y":4.7},{"x":7630,"y":3.05},{"x":7670,"y":3.5},{"x":7640,"y":4.2},{"x":7650,"y":-3.15},{"x":7620,"y":-3.6},{"x":7680,"y":-4.1},
{"x":7820,"y":-2.88},{"x":7820,"y":-2.64},{"x":7820,"y":-2.4},{"x":7820,"y":-2.16},{"x":7820,"y":-1.92},{"x":7820,"y":-1.68},{"x":7820,"y":-1.44},{"x":7820,"y":-1.2},{"x":7820,"y":-0.96},{"x":7820,"y":-0.72},{"x":7820,"y":-0.48},{"x":7820,"y":-0.24},{"x":7820,"y":0},{"x":7820,"y":0.24},{"x":7820,"y":0.48},{"x":7820,"y":0.72},{"x":7820,"y":0.96},{"x":7820,"y":1.2},{"x":7820,"y":1.44},{"x":7820,"y":1.68},{"x":7820,"y":1.92},{"x":7820,"y":2.16},{"x":7820,"y":2.4},{"x":7820,"y":2.64},{"x":7820,"y":2.88},
{"x":7760,"y":6.06},{"x":7760,"y":5.2},{"x":7790,"y":5.1},{"x":7800,"y":3.25},{"x":7840,"y":3.7},{"x":7810,"y":4.4},{"x":7760,"y":-4.44},{"x":7855,"y":-4.59},{"x":7855,"y":-4.96},{"x":7800,"y":-3.3},{"x":7840,"y":-3.85},
{"x":7990,"y":-2.76},{"x":7990,"y":-2.52},{"x":7990,"y":-2.28},{"x":7990,"y":-2.04},{"x":7990,"y":-1.8},{"x":7990,"y":-1.56},{"x":7990,"y":-1.32},{"x":7990,"y":-1.08},{"x":7990,"y":-0.84},{"x":7990,"y":-0.6},{"x":7990,"y":-0.36},{"x":7990,"y":-0.12},{"x":7990,"y":0.12},{"x":7990,"y":0.36},{"x":7990,"y":0.6},{"x":7990,"y":0.84},{"x":7990,"y":1.08},{"x":7990,"y":1.32},{"x":7990,"y":1.56},{"x":7990,"y":1.8},{"x":7990,"y":2.04},{"x":7990,"y":2.28},{"x":7990,"y":2.52},{"x":7990,"y":2.76},
{"x":7953,"y":4.13},{"x":7980,"y":3.1},{"x":7999,"y":3.6},{"x":7942,"y":-5.01},{"x":7950,"y":-4.2},{"x":7999,"y":-4.0},{"x":7990,"y":-3.2},{"x":7970,"y":-3.6},
{"x":50,"y":3.25},{"x":110,"y":3.7},{"x":40,"y":4.1},{"x":70,"y":-3.3},{"x":120,"y":-3.95},{"x":30,"y":-4.2},
{"x":210,"y":3.35},{"x":130,"y":3.85},{"x":180,"y":4.45},{"x":160,"y":-3.2},{"x":220,"y":-3.75},
{"x":300,"y":3.15},{"x":360,"y":3.55},{"x":380,"y":-3.45},{"x":330,"y":-3.9},{"x":350,"y":-4.6},
{"x":470,"y":3.05},{"x":550,"y":3.8},{"x":520,"y":4.3},{"x":560,"y":-3.2},{"x":470,"y":-3.75},
{"x":640,"y":3.2},{"x":720,"y":3.75},{"x":720,"y":-3.1},{"x":640,"y":-3.55},{"x":700,"y":-4.3},
{"x":900,"y":3.45},{"x":810,"y":3.9},{"x":860,"y":4.6},{"x":800,"y":-3.35},{"x":870,"y":-3.85},
{"x":980,"y":3.3},{"x":1060,"y":3.8},{"x":990,"y":-3.05},{"x":1060,"y":-3.5},{"x":1030,"y":-4.25},
{"x":1230,"y":3.2},{"x":1150,"y":3.7},{"x":1200,"y":4.2},{"x":1150,"y":-3.3},{"x":1200,"y":-3.9},
{"x":1320,"y":3.0},{"x":1400,"y":3.85},{"x":1350,"y":4.5},{"x":1410,"y":-3.4},{"x":1320,"y":-3.05},
{"x":1580,"y":3.55},{"x":1500,"y":4.15},{"x":1590,"y":-3.3},{"x":1520,"y":-3.85},{"x":1550,"y":-4.4},
{"x":1650,"y":3.3},{"x":1740,"y":3.9},{"x":1670,"y":-3.1},{"x":1750,"y":-3.55},
{"x":1820,"y":3.05},{"x":1920,"y":3.75},{"x":1840,"y":4.2},{"x":1920,"y":-3.3},{"x":1830,"y":-3.9},
{"x":2080,"y":3.35},{"x":2000,"y":3.9},{"x":2060,"y":4.4},{"x":2000,"y":-3.2},{"x":2090,"y":-3.7},{"x":2030,"y":-4.4},
{"x":2170,"y":3.2},{"x":2250,"y":3.7},{"x":2220,"y":4.3},{"x":2250,"y":-3.35},{"x":2170,"y":-3.05},
{"x":2340,"y":3.05},{"x":2420,"y":3.5},{"x":2390,"y":4.1},{"x":2340,"y":-3.3},{"x":2420,"y":-3.8},{"x":2370,"y":-4.5},
{"x":2600,"y":3.25},{"x":2510,"y":3.7},{"x":2600,"y":-3.05},{"x":2510,"y":-3.6},{"x":2590,"y":-3.95},
{"x":2770,"y":3.35},{"x":2680,"y":3.85},{"x":2750,"y":4.55},{"x":2760,"y":-3.35},{"x":2690,"y":-3.85},
{"x":2850,"y":3.05},{"x":2930,"y":3.6},{"x":2860,"y":4.1},{"x":2940,"y":-3.05},{"x":2860,"y":-3.5},{"x":2920,"y":-4.3},
{"x":3010,"y":3.25},{"x":3090,"y":3.8},{"x":3030,"y":4.6},{"x":3010,"y":-3.25},{"x":3100,"y":-3.75},{"x":3040,"y":-4.0},
{"x":3270,"y":3.4},{"x":3190,"y":3.95},{"x":3270,"y":-3.35},{"x":3190,"y":-3.85},
{"x":3440,"y":3.05},{"x":3360,"y":3.55},{"x":3410,"y":4.25},{"x":3440,"y":-3.45},{"x":3350,"y":-3.05},{"x":3380,"y":-4.3},
{"x":3530,"y":3.3},{"x":3610,"y":3.85},{"x":3580,"y":4.7},{"x":3620,"y":-3.1},{"x":3530,"y":-3.7},
{"x":3790,"y":3.0},{"x":3700,"y":3.45},{"x":3690,"y":-3.3},{"x":3770,"y":-3.9},{"x":3750,"y":-4.55},
{"x":3870,"y":3.3},{"x":3950,"y":3.85},{"x":3920,"y":4.3},{"x":3960,"y":-3.05},{"x":3870,"y":-3.55},
{"x":4120,"y":3.05},{"x":4040,"y":3.6},{"x":4090,"y":4.4},{"x":4040,"y":-3.35},{"x":4120,"y":-3.8},{"x":4070,"y":-4.45},
{"x":4300,"y":3.25},{"x":4210,"y":3.8},{"x":4290,"y":-3.0},{"x":4210,"y":-3.5},
{"x":4380,"y":3.4},{"x":4460,"y":3.95},{"x":4420,"y":4.5},{"x":4460,"y":-3.15},{"x":4380,"y":-3.7},{"x":4430,"y":-4.35},
{"x":4630,"y":3.3},{"x":4550,"y":3.8},{"x":4640,"y":-3.4},{"x":4560,"y":-4.05},
{"x":4720,"y":3.05},{"x":4800,"y":3.55},{"x":4770,"y":4.25},{"x":4800,"y":-3.1},{"x":4720,"y":-3.6},{"x":4760,"y":-4.55},
{"x":4970,"y":3.35},{"x":4880,"y":3.9},{"x":4880,"y":-3.4},{"x":4970,"y":-3.95},
{"x":5140,"y":3.05},{"x":5060,"y":3.45},{"x":5110,"y":4.3},{"x":5140,"y":-3.3},{"x":5060,"y":-3.8},{"x":5100,"y":-4.45},
{"x":5230,"y":3.6},{"x":5310,"y":3.95},{"x":5280,"y":4.55},{"x":5310,"y":-3.1},{"x":5230,"y":-3.6},
{"x":5400,"y":3.35},{"x":5480,"y":3.85},{"x":5450,"y":4.4},{"x":5480,"y":-3.45},{"x":5400,"y":-3.05},
{"x":5650,"y":3.25},{"x":5570,"y":3.8},{"x":5570,"y":-3.05},{"x":5650,"y":-3.7},{"x":5580,"y":-4.45},
{"x":5740,"y":3.05},{"x":5820,"y":3.55},{"x":5770,"y":4.2},{"x":5740,"y":-3.35},{"x":5820,"y":-3.9},{"x":5750,"y":-4.2},
{"x":5990,"y":3.35},{"x":5910,"y":3.85},{"x":5980,"y":4.6},{"x":5910,"y":-3.05},{"x":5990,"y":-3.65},
{"x":6080,"y":3.0},{"x":6160,"y":3.45},{"x":6110,"y":4.15},{"x":6160,"y":-3.35},{"x":6080,"y":-3.85},
{"x":6250,"y":3.25},{"x":6330,"y":3.75},{"x":6330,"y":-3.05},{"x":6250,"y":-3.6},{"x":6320,"y":-3.95},
{"x":6500,"y":3.05},{"x":6420,"y":3.55},{"x":6470,"y":4.3},{"x":6420,"y":-3.4},{"x":6500,"y":-3.95},{"x":6470,"y":-4.6},
{"x":6590,"y":3.35},{"x":6670,"y":3.85},{"x":6600,"y":4.4},{"x":6670,"y":-3.05},{"x":6590,"y":-3.7},
{"x":6840,"y":3.4},{"x":6760,"y":3.95},{"x":6840,"y":-3.25},{"x":6760,"y":-3.8},{"x":6810,"y":-4.1},
{"x":6930,"y":3.25},{"x":7010,"y":3.75},{"x":6980,"y":4.55},{"x":7010,"y":-3.05},{"x":6930,"y":-3.55},{"x":6970,"y":-4.25},
{"x":7100,"y":3.05},{"x":7180,"y":3.5},{"x":7150,"y":4.2},{"x":7180,"y":-3.45},{"x":7100,"y":-3.95},
{"x":7350,"y":3.3},{"x":7270,"y":3.85},{"x":7330,"y":4.45},{"x":7270,"y":-3.35},{"x":7350,"y":-3.9},{"x":7320,"y":-4.3},
{"x":7440,"y":3.4},{"x":7520,"y":3.85},{"x":7440,"y":-3.1},{"x":7520,"y":-3.6},{"x":7500,"y":-4.45},
{"x":7690,"y":3.25},{"x":7610,"y":3.8},{"x":7660,"y":4.5},{"x":7690,"y":-3.4},{"x":7610,"y":-3.85},
{"x":7780,"y":3.05},{"x":7860,"y":3.5},{"x":7830,"y":4.1},{"x":7870,"y":-3.1},{"x":7780,"y":-3.55},{"x":7830,"y":-4.2},
{"x":7960,"y":3.3},{"x":7999,"y":3.85},{"x":7975,"y":4.4},{"x":7950,"y":-3.35},{"x":7999,"y":-3.85},{"x":7980,"y":-4.5}
]
},
"hconcat":[
{
"width":241,"height":357,
"title":"Sine Fit",
"encoding":{
"x":{"field":"x","type":"quantitative","scale":{"domain":[-0.395,8.295],"nice":false,"zero":false},"axis":{"values":[0,2,4,6,8],"title":"Sample #"}},
"y":{"field":"y","type":"quantitative","scale":{"domain":[7320,24450],"nice":false,"zero":false},"axis":{"values":[8000,10000,12000,14000,16000,18000,20000,22000,24000],"format":"d","title":"ADC Counts"}}
},
"layer":[
{"data":{"name":"curve"},"mark":{"type":"line","stroke":"red","strokeWidth":2.1,"interpolate":"monotone"},"encoding":{}},
{"data":{"name":"samples"},"mark":{"type":"point","filled":true,"size":12,"strokeWidth":2,"opacity":1},
"encoding":{
"fill":{"field":"series","type":"nominal","scale":{"domain":["Samples","Sine fit"],"range":["black","red"]},"legend":{"title":null}},
"stroke":{"field":"series","type":"nominal","scale":{"domain":["Samples","Sine fit"],"range":["black","red"]},"legend":{"title":null}},
"shape":{"field":"series","type":"nominal","scale":{"domain":["Samples","Sine fit"],"range":["circle","M-7,0L7,0"]},"legend":{"title":null}}
}}
]
},
{
"width":241,"height":357,
"title":"Residuals",
"data":{"name":"residuals"},
"encoding":{
"x":{"field":"x","type":"quantitative","scale":{"domain":[-400,8400],"nice":false,"zero":false},"axis":{"values":[0,2000,4000,6000,8000],"format":"d","title":"Sample #"}},
"y":{"field":"y","type":"quantitative","scale":{"domain":[-7.04,9.08],"nice":false,"zero":false},"axis":{"values":[-6,-4,-2,0,2,4,6,8],"format":"d","title":null}},
"fill":{"datum":"Residuals","scale":{"domain":["Residuals","μ = 0.0, σ = 1.88"],"range":["black","transparent"]},"legend":{"title":null,"symbolSize":26,"symbolStrokeWidth":0,"symbolType":"M1,3.47L0.866,3.97L0.5,4.336L0,4.47L-0.5,4.336L-0.866,3.97L-1,3.47L-0.866,2.97L-0.5,2.604L0,2.47L0.5,2.604L0.866,2.97Z","symbolOffset":7.05,"labelOffset":18.45,"rowPadding":3.8}}
},
"layer":[
{"transform":[{"filter":"abs(datum.y) < 2.95"}],"mark":{"type":"point","filled":true,"size":50,"opacity":1}},
{"transform":[{"filter":"abs(datum.y) >= 2.95"}],"mark":{"type":"point","filled":true,"size":26,"opacity":1}}
]
}
]
}
